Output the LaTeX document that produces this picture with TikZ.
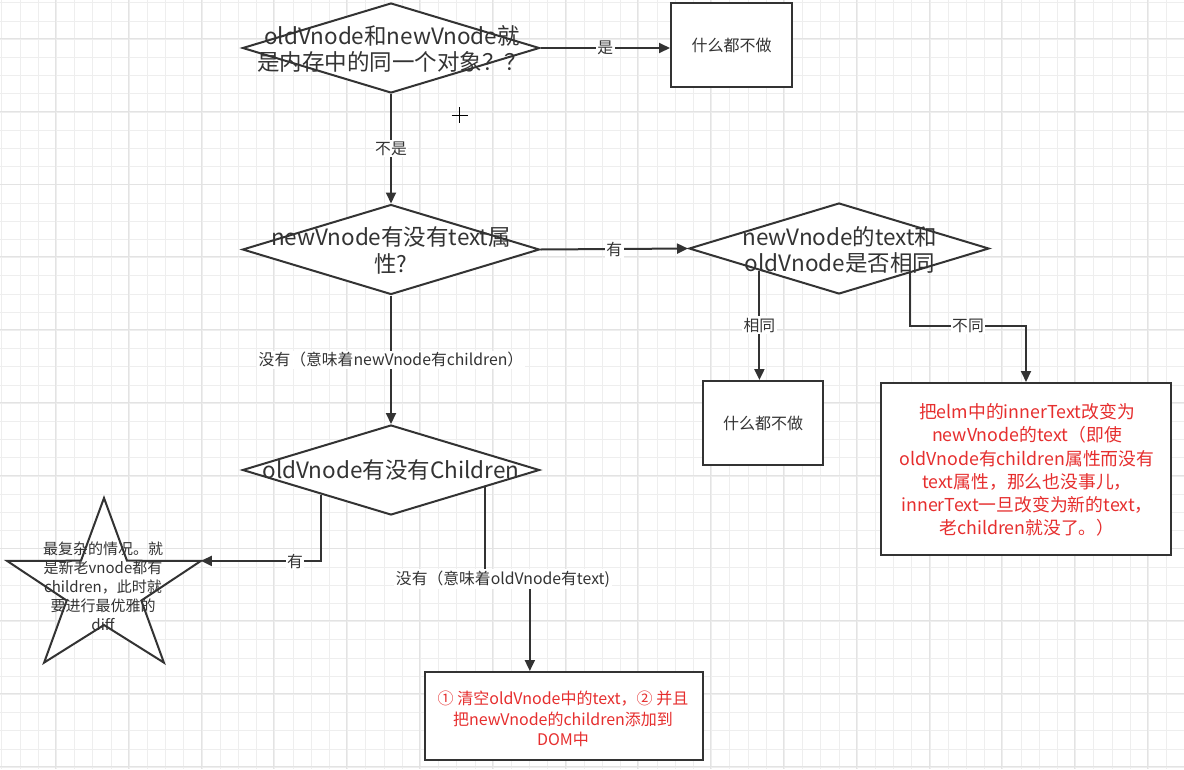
\documentclass[tikz,border=0pt]{standalone}
\usepackage{fontspec}
\setmainfont{Noto Sans CJK SC}
\usetikzlibrary{shapes.geometric,arrows.meta,calc}
\definecolor{lnc}{HTML}{333333}
\definecolor{txc}{HTML}{333333}
\definecolor{rdc}{HTML}{E62E2E}
\definecolor{gridc}{HTML}{EEEEEE}
\definecolor{gridm}{HTML}{E3E3E3}
\begin{document}
\begin{tikzpicture}[x=1pt,y=-1pt,
  dia/.style={diamond, draw=lnc, line width=2pt, fill=white, minimum width=297pt, minimum height=90pt, inner sep=0pt},
  boxn/.style={rectangle, draw=lnc, line width=2pt, fill=white, inner sep=0pt},
  bigtxt/.style={font=\fontsize{22.5}{26.5}\selectfont, text=txc, align=center, inner sep=0pt},
  boxtxt/.style={font=\fontsize{16}{19}\selectfont, text=txc, align=center},
  redtxt/.style={font=\fontsize{17.8}{23.3}\selectfont, text=rdc, align=center, inner sep=0pt},
  redtxtb/.style={font=\fontsize{16}{20.5}\selectfont, text=rdc, align=center, inner sep=0pt},
  startxt/.style={font=\fontsize{15}{19}\selectfont, text=txc, align=center, inner sep=0pt},
  lbl/.style={font=\fontsize{15.8}{17}\selectfont, text=txc, fill=white, inner sep=1.5pt},
  arr/.style={draw=lnc, line width=2pt, -{Triangle[length=11pt,width=10pt]}},
]
\useasboundingbox (0,0) rectangle (1184,769);
\fill[white] (0,0) rectangle (1184,769);
% grid
\foreach \i in {0,...,65} { \draw[gridc, line width=0.8pt] ({1.7+18.2*\i},0) -- ({1.7+18.2*\i},769); }
\foreach \j in {0,...,42} { \draw[gridc, line width=0.8pt] (0,{2.7+18.2*\j}) -- (1184,{2.7+18.2*\j}); }
\foreach \i in {0,...,16} { \draw[gridm, line width=0.8pt] ({55.3+72.8*\i},0) -- ({55.3+72.8*\i},769); }
\foreach \j in {0,...,10} { \draw[gridm, line width=0.8pt] (0,{38.3+72.8*\j}) -- (1184,{38.3+72.8*\j}); }

% shapes
\node[dia] (D1) at (391,48) {};
\node[dia] (D2) at (391,249.5) {};
\node[dia, minimum width=300pt, minimum height=91pt] (D3) at (839,248.5) {};
\node[dia] (D4) at (391,470) {};
\node[boxn, minimum width=121pt, minimum height=84pt] (B1) at (731.5,45) {};
\node[boxn, minimum width=120pt, minimum height=84pt] (B2) at (763,423) {};
\node[boxn, minimum width=290pt, minimum height=172pt] (B3) at (1026,469) {};
\node[boxn, minimum width=278pt, minimum height=88pt] (B4) at (564,716) {};

% star
\draw[lnc, line width=2pt, fill=white, line join=miter]
  (104,498) -- (127,560.7) -- (200.9,560.9) -- (141.3,600.5) -- (163.9,662.6)
  -- (104,625) -- (44.1,662.6) -- (66.7,600.5) -- (7.1,560.9) -- (81,560.7) -- cycle;
\coordinate (starR) at (200.9,560.9);

% texts
\node[bigtxt] (D1t) at (392,49) {oldVnode和newVnode就\\是内存中的同一个对象？？};
\node[bigtxt] (D2t) at (391,250.5) {newVnode有没有text属\\性?};
\node[bigtxt] (D3t) at (840,250) {newVnode的text和\\oldVnode是否相同};
\node[bigtxt] (D4t) at (391,470) {oldVnode有没有Children};
\node[boxtxt] (B1t) at (B1.center) {什么都不做};
\node[boxtxt] (B2t) at (B2.center) {什么都不做};
\node[redtxt] (B3t) at (1027,470) {把elm中的innerText改变为\\newVnode的text（即使\\oldVnode有children属性而没有\\text属性，那么也没事儿，\\innerText一旦改变为新的text，\\老children就没了。）};
\node[redtxtb] (B4t) at (563,719) {① 清空oldVnode中的text，② 并且\\把newVnode的children添加到\\DOM中};
\node[startxt] (St) at (103,586) {最复杂的情况。就\\是新老vnode都有\\children，此时就\\要进行最优雅的\\diff};

% connectors
\draw[arr] (D1.east) -- node[lbl] (L1) {是} (D1.east -| B1.west);
\draw[arr] (D1.south) -- node[lbl] (L2) {不是} (D2.north);
\draw[arr] (D2.east) -- node[lbl] (L3) {有} (D3.west);

\coordinate (s3a) at ($(D3.west)!0.473!(D3.south)$);
\draw[arr] (s3a) -- node[lbl] (L4) {相同} (s3a |- B2.north);

\coordinate (s3b) at ($(D3.south)!0.467!(D3.east)$);
\coordinate (k3) at (968,326);
\draw[arr] (s3b) |- (k3) -| (B3.north);
\node[lbl] (L5) at (k3) {不同};

\draw[arr] (D2.south) -- node[lbl] (L6) {没有（意味着newVnode有children）} (D4.north);

\coordinate (s4a) at ($(D4.west)!0.534!(D4.south)$);
\draw[arr] (s4a) |- (starR);
\node[lbl] (L7) at (295,561) {有};

\coordinate (s4b) at ($(D4.south)!0.631!(D4.east)$);
\coordinate (k4) at (507,579);
\coordinate (e4) at ($(B4.north west)!0.378!(B4.north east)$);
\draw[arr] (s4b) |- (k4) -| (e4);
\node[lbl] (L8) at (503,579) {没有（意味着oldVnode有text)};

% cursor
\draw[black, line width=1pt] (451.5,115) -- (467.5,115);
\draw[black, line width=1pt] (459.5,107) -- (459.5,123);
\end{tikzpicture}
\end{document}
